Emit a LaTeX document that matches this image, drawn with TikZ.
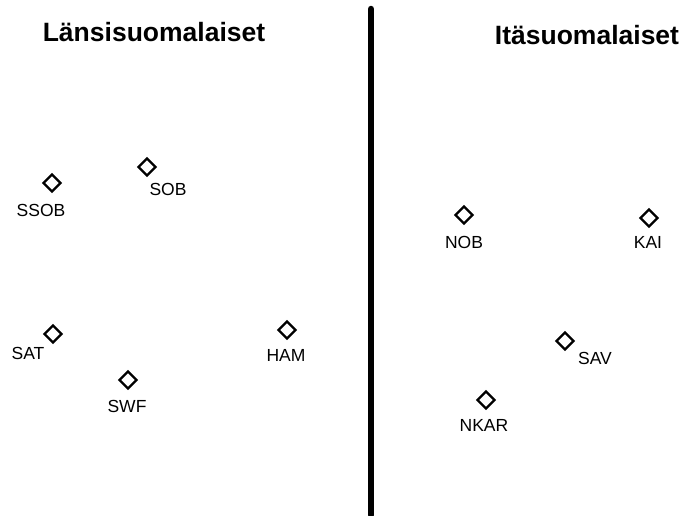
\documentclass[tikz,border=0pt]{standalone}
\usepackage{fontspec}
\setmainfont{Liberation Sans}
\usetikzlibrary{shapes.geometric}
\tikzset{
  pt/.style={diamond, draw, line width=2.4pt, minimum size=18pt, inner sep=0pt},
  lbl/.style={font=\fontsize{17.5}{17.5}\selectfont, inner sep=0pt},
  ttl/.style={font=\fontsize{26.5}{26.5}\selectfont\bfseries, inner sep=0pt}
}
\begin{document}
\begin{tikzpicture}[x=1pt,y=-1pt]
  \useasboundingbox (0,0) rectangle (681,515);
  % otsikot
  \node[ttl] (lansi) at (154,32) {Länsisuomalaiset};
  \node[ttl] (ita) at (587,35) {Itäsuomalaiset};
  % jakoviiva
  \coordinate (top) at (371,9);
  \coordinate (bottom) at (371,515);
  \draw[line width=6.5pt, line cap=round] (top) -- (bottom);
  % läntiset
  \node[pt] (ssob) at (52,183) {};
  \node[lbl] (ssobl) at (41,210) {SSOB};
  \node[pt] (sob) at (147,167) {};
  \node[lbl] (sobl) at (168,189) {SOB};
  \node[pt] (sat) at (53,334) {};
  \node[lbl] (satl) at (28,353) {SAT};
  \node[pt] (swf) at (128,380) {};
  \node[lbl] (swfl) at (127,406) {SWF};
  \node[pt] (ham) at (287,330) {};
  \node[lbl] (haml) at (286,355) {HAM};
  % itäiset
  \node[pt] (nob) at (464,215) {};
  \node[lbl] (nobl) at (464,242) {NOB};
  \node[pt] (kai) at (649,218) {};
  \node[lbl] (kail) at (648,242) {KAI};
  \node[pt] (sav) at (565,341) {};
  \node[lbl] (savl) at (595,358) {SAV};
  \node[pt] (nkar) at (486,400) {};
  \node[lbl] (nkarl) at (484,425) {NKAR};
\end{tikzpicture}
\end{document}
